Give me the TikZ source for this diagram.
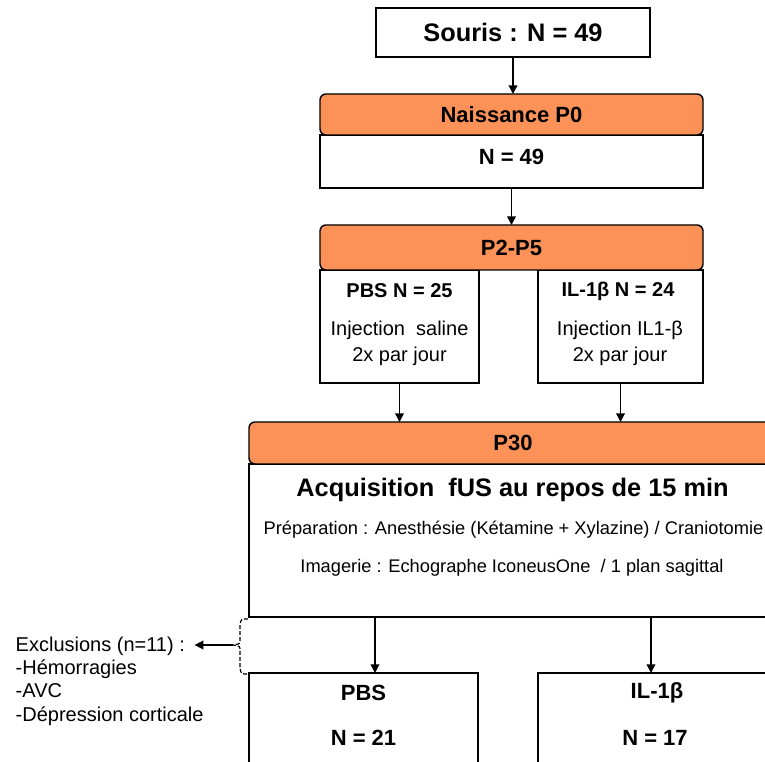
\documentclass[tikz,border=0pt]{standalone}
\usepackage{fontspec}
\setmainfont{Liberation Sans}
\usetikzlibrary{arrows.meta}

\definecolor{hdrorange}{RGB}{252,146,88}
\newcommand{\fbig}{\fontsize{19}{22}\selectfont\bfseries}
\newcommand{\fhdr}{\fontsize{16.5}{19}\selectfont\bfseries}
\newcommand{\fmidb}{\fontsize{15}{18}\selectfont\bfseries}
\newcommand{\fmid}{\fontsize{15}{18}\selectfont}
\newcommand{\fsmall}{\fontsize{13.7}{16}\selectfont}

\tikzset{every picture/.style={line width=1.1pt}}
\tikzset{
  hdrbox/.style={draw, fill=hdrorange, rounded corners=4.5pt, inner sep=0pt, outer sep=0pt},
  bodybox/.style={draw, fill=white, inner sep=0pt, outer sep=0pt},
  txt/.style={inner sep=0.75pt},
  flow/.style={-{Triangle[length=6.5pt,width=6.5pt]}},
  brace/.style={line width=0.9pt, dash pattern=on 3pt off 1.5pt},
}

\begin{document}
\begin{tikzpicture}[x=0.75pt,y=0.75pt,yscale=-1,xscale=1]
\useasboundingbox (0,0) rectangle (765,762);
\clip (0,0) rectangle (765,762);

%Shape: Rectangle [souris]
\draw (513,32.5) node [bodybox, minimum width=205.5pt, minimum height=36.75pt, font=\fbig] (souris) {Souris : N = 49};

%Shape: Rectangle [naissance]
\draw (511.5,161.5) node [bodybox, minimum width=287.25pt, minimum height=39.75pt] (naisb) {};
\draw (511.5,114.5) node [hdrbox, minimum width=287.25pt, minimum height=30.75pt, font=\fhdr] (nais) {Naissance P0};

%Shape: Rectangle [P2-P5]
\draw (399.5,326.5) node [bodybox, minimum width=119.25pt, minimum height=84.75pt] (pbs) {};
\draw (620.5,326.5) node [bodybox, minimum width=123.75pt, minimum height=84.75pt] (il) {};
\draw (511.5,247.5) node [hdrbox, minimum width=287.25pt, minimum height=33.75pt, font=\fhdr] (ptwo) {P2-P5};

%Shape: Rectangle [P30]
\draw (513,540.5) node [bodybox, minimum width=396pt, minimum height=114.75pt] (ptrb) {};
\draw (513,443) node [hdrbox, minimum width=396pt, minimum height=31.5pt, font=\fhdr] (ptr) {P30};

%Shape: Rectangle [groupes]
\draw (363.5,731.5) node [bodybox, minimum width=171.75pt, minimum height=87.75pt] (pbsend) {};
\draw (657,731.5) node [bodybox, minimum width=178.5pt, minimum height=87.75pt] (ilend) {};

% Text Node
\draw (511.5,157) node [txt, font=\fhdr] (naisn) {N = 49};
% Text Node
\draw (399.5,291) node [txt, font=\fmidb] (pbsn) {PBS N = 25};
\draw (399.5,330) node [txt, font=\fmid] (pbsinj) {Injection\ \ saline};
\draw (399.5,356) node [txt, font=\fmid] (pbsfreq) {2x par jour};
% Text Node
\draw (618,291) node [txt, font=\fmidb] (iln) {IL-1β N = 24};
\draw (620,330) node [txt, font=\fmid] (ilinj) {Injection IL1-β};
\draw (620,356) node [txt, font=\fmid] (ilfreq) {2x par jour};
% Text Node
\draw (512.5,490) node [txt, font=\fbig] (acq) {Acquisition~ fUS au repos de 15 min};
\draw (513.5,530) node [txt, font=\fsmall] (prep) {Préparation : Anesthésie (Kétamine + Xylazine) / Craniotomie};
\draw (512,568) node [txt, font=\fsmall] (imag) {Imagerie : Echographe IconeusOne~ / 1 plan sagittal};
% Text Node
\draw (363.5,693) node [txt, font=\fhdr] (pbsendt) {PBS};
\draw (363.5,738) node [txt, font=\fhdr] (pbsendn) {N = 21};
\draw (657,693) node [txt, font=\fhdr] (ilendt) {IL-1β};
\draw (655,738) node [txt, font=\fhdr] (ilendn) {N = 17};
% Text Node
\draw (14,652) node [anchor=base west, txt, font=\fmid] (exa) {Exclusions (n=11) :};
\draw (14,675) node [anchor=base west, txt, font=\fmid] (exb) {-Hémorragies};
\draw (14,698) node [anchor=base west, txt, font=\fmid] (exc) {-AVC};
\draw (14,721.5) node [anchor=base west, txt, font=\fmid] (exd) {-Dépression corticale};

% fleches
\draw [flow] (souris.south) -- (souris.south |- nais.north);
\draw [flow] (naisb.south) -- (naisb.south |- ptwo.north);
\draw [flow] (pbs.south) -- (pbs.south |- ptr.north);
\draw [flow] (il.south) -- (il.south |- ptr.north);
\coordinate (pbsarr) at ([xshift=8.6pt]pbsend.north);
\coordinate (ilarr) at ([xshift=-4.5pt]ilend.north);
\draw [flow] (ptrb.south -| pbsarr) -- (pbsarr);
\draw [flow] (ptrb.south -| ilarr) -- (ilarr);

%Shape: Brace
\coordinate (brtip) at (233,645);
\draw [brace] (248,619) .. controls (241,619) .. (240,625) -- (240,639) .. controls (240,644) .. (brtip) .. controls (240,646) .. (240,651) -- (240,668) .. controls (241,674) .. (248,674);
\draw [flow, shorten >=6pt] (brtip) -- (brtip -| exa.east);

\end{tikzpicture}
\end{document}
